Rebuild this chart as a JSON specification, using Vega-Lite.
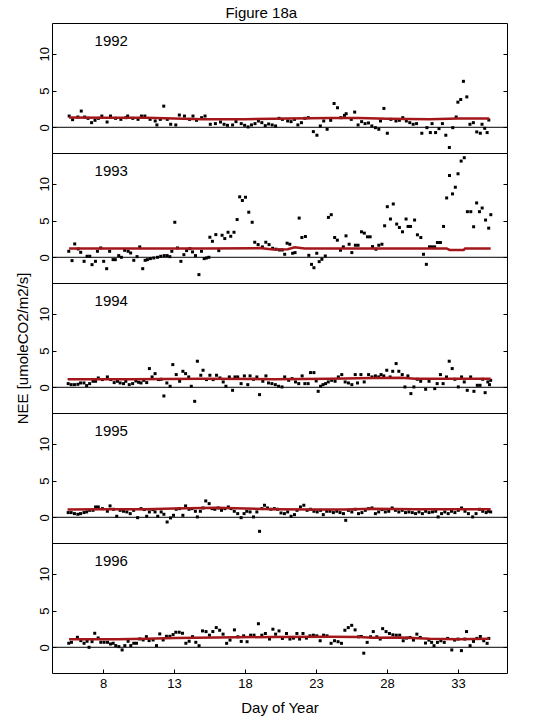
{
  "$schema": "https://vega.github.io/schema/vega-lite/v6.json",
  "padding": {"left": 14, "top": 5, "right": 5, "bottom": 5},
  "title": {"text": "Figure 18a", "anchor": "middle", "fontSize": 15, "font": "Liberation Sans", "fontWeight": "normal", "color": "black", "offset": 2},
  "spacing": 0,
  "bounds": "flush",
  "datasets": {
    "pts": [
      {"yr":1992,"d":5.61,"v":1.53},{"yr":1992,"d":5.85,"v":1.04},{"yr":1992,"d":6.22,"v":1.4},{"yr":1992,"d":6.46,"v":2.21},{"yr":1992,"d":6.7,"v":1.4},{"yr":1992,"d":6.94,"v":1.22},{"yr":1992,"d":7.19,"v":0.63},{"yr":1992,"d":7.43,"v":0.95},{"yr":1992,"d":7.67,"v":1.22},{"yr":1992,"d":7.91,"v":1.53},{"yr":1992,"d":8.28,"v":0.72},{"yr":1992,"d":8.52,"v":1.53},{"yr":1992,"d":8.88,"v":1.22},{"yr":1992,"d":9.25,"v":1.08},{"yr":1992,"d":9.61,"v":1.31},{"yr":1992,"d":9.73,"v":1.53},{"yr":1992,"d":10.09,"v":1.22},{"yr":1992,"d":10.46,"v":1.08},{"yr":1992,"d":10.7,"v":1.53},{"yr":1992,"d":10.94,"v":1.53},{"yr":1992,"d":11.31,"v":1.08},{"yr":1992,"d":11.67,"v":0.86},{"yr":1992,"d":11.79,"v":0.32},{"yr":1992,"d":12.03,"v":1.08},{"yr":1992,"d":12.27,"v":2.88},{"yr":1992,"d":12.52,"v":1.08},{"yr":1992,"d":12.76,"v":0.41},{"yr":1992,"d":13.12,"v":0.32},{"yr":1992,"d":13.37,"v":1.67},{"yr":1992,"d":13.73,"v":1.53},{"yr":1992,"d":14.09,"v":1.08},{"yr":1992,"d":14.33,"v":1.53},{"yr":1992,"d":14.58,"v":0.95},{"yr":1992,"d":14.94,"v":1.31},{"yr":1992,"d":15.18,"v":1.53},{"yr":1992,"d":15.55,"v":0.41},{"yr":1992,"d":15.91,"v":0.5},{"yr":1992,"d":16.27,"v":0.72},{"yr":1992,"d":16.52,"v":0.41},{"yr":1992,"d":16.76,"v":0.27},{"yr":1992,"d":17.12,"v":0.32},{"yr":1992,"d":17.36,"v":0.77},{"yr":1992,"d":17.73,"v":0.5},{"yr":1992,"d":17.97,"v":0.27},{"yr":1992,"d":18.21,"v":0.05},{"yr":1992,"d":18.45,"v":0.32},{"yr":1992,"d":18.7,"v":0.5},{"yr":1992,"d":18.94,"v":0.86},{"yr":1992,"d":19.18,"v":0.63},{"yr":1992,"d":19.42,"v":0.23},{"yr":1992,"d":19.66,"v":0.45},{"yr":1992,"d":19.91,"v":0.32},{"yr":1992,"d":20.15,"v":0.18},{"yr":1992,"d":20.39,"v":1.22},{"yr":1992,"d":20.63,"v":1.08},{"yr":1992,"d":21.0,"v":0.86},{"yr":1992,"d":21.24,"v":0.77},{"yr":1992,"d":21.48,"v":1.08},{"yr":1992,"d":21.72,"v":0.32},{"yr":1992,"d":21.97,"v":0.63},{"yr":1992,"d":22.21,"v":1.22},{"yr":1992,"d":22.45,"v":1.31},{"yr":1992,"d":22.81,"v":-0.59},{"yr":1992,"d":23.06,"v":-1.08},{"yr":1992,"d":23.3,"v":0.18},{"yr":1992,"d":23.54,"v":0.86},{"yr":1992,"d":23.78,"v":-0.27},{"yr":1992,"d":24.03,"v":0.95},{"yr":1992,"d":24.27,"v":3.24},{"yr":1992,"d":24.51,"v":2.66},{"yr":1992,"d":24.75,"v":1.31},{"yr":1992,"d":25.0,"v":1.62},{"yr":1992,"d":25.12,"v":1.85},{"yr":1992,"d":25.48,"v":1.08},{"yr":1992,"d":25.72,"v":2.07},{"yr":1992,"d":25.96,"v":0.32},{"yr":1992,"d":26.21,"v":0.77},{"yr":1992,"d":26.45,"v":0.5},{"yr":1992,"d":26.69,"v":0.59},{"yr":1992,"d":26.93,"v":0.18},{"yr":1992,"d":27.18,"v":-0.05},{"yr":1992,"d":27.42,"v":-0.27},{"yr":1992,"d":27.54,"v":0.86},{"yr":1992,"d":27.78,"v":2.57},{"yr":1992,"d":28.02,"v":-0.81},{"yr":1992,"d":28.27,"v":1.08},{"yr":1992,"d":28.63,"v":0.86},{"yr":1992,"d":28.87,"v":0.95},{"yr":1992,"d":29.11,"v":1.31},{"yr":1992,"d":29.36,"v":0.86},{"yr":1992,"d":29.6,"v":0.63},{"yr":1992,"d":29.84,"v":0.41},{"yr":1992,"d":30.08,"v":0.5},{"yr":1992,"d":30.45,"v":-0.81},{"yr":1992,"d":30.81,"v":-0.05},{"yr":1992,"d":31.05,"v":-0.72},{"yr":1992,"d":31.17,"v":0.5},{"yr":1992,"d":31.42,"v":-0.72},{"yr":1992,"d":31.66,"v":-0.18},{"yr":1992,"d":31.9,"v":0.5},{"yr":1992,"d":32.14,"v":-1.08},{"yr":1992,"d":32.39,"v":-2.75},{"yr":1992,"d":32.63,"v":-0.05},{"yr":1992,"d":32.87,"v":1.4},{"yr":1992,"d":32.99,"v":3.42},{"yr":1992,"d":33.19,"v":3.78},{"yr":1992,"d":33.38,"v":6.26},{"yr":1992,"d":33.62,"v":4.14},{"yr":1992,"d":33.84,"v":0.41},{"yr":1992,"d":34.08,"v":0.63},{"yr":1992,"d":34.32,"v":-0.63},{"yr":1992,"d":34.57,"v":-0.81},{"yr":1992,"d":34.69,"v":0.41},{"yr":1992,"d":34.88,"v":-0.14},{"yr":1992,"d":35.05,"v":-0.72},{"yr":1992,"d":35.17,"v":0.99},
      {"yr":1993,"d":5.58,"v":0.82},{"yr":1993,"d":5.81,"v":-0.45},{"yr":1993,"d":6.0,"v":1.82},{"yr":1993,"d":6.24,"v":1.14},{"yr":1993,"d":6.42,"v":0.68},{"yr":1993,"d":6.66,"v":-0.55},{"yr":1993,"d":6.87,"v":0.14},{"yr":1993,"d":7.06,"v":0.14},{"yr":1993,"d":7.22,"v":-1.0},{"yr":1993,"d":7.46,"v":-0.55},{"yr":1993,"d":7.6,"v":0.82},{"yr":1993,"d":7.83,"v":1.27},{"yr":1993,"d":8.04,"v":-0.55},{"yr":1993,"d":8.25,"v":-1.55},{"yr":1993,"d":8.46,"v":0.82},{"yr":1993,"d":8.7,"v":-0.32},{"yr":1993,"d":8.86,"v":-0.32},{"yr":1993,"d":9.1,"v":0.23},{"yr":1993,"d":9.29,"v":0.0},{"yr":1993,"d":9.52,"v":0.95},{"yr":1993,"d":9.76,"v":0.82},{"yr":1993,"d":9.94,"v":0.59},{"yr":1993,"d":10.16,"v":-0.41},{"yr":1993,"d":10.39,"v":0.09},{"yr":1993,"d":10.58,"v":1.41},{"yr":1993,"d":10.79,"v":-1.55},{"yr":1993,"d":10.96,"v":-0.41},{"yr":1993,"d":11.12,"v":-0.32},{"yr":1993,"d":11.33,"v":-0.18},{"yr":1993,"d":11.57,"v":-0.09},{"yr":1993,"d":11.83,"v":0.0},{"yr":1993,"d":12.06,"v":0.14},{"yr":1993,"d":12.3,"v":0.23},{"yr":1993,"d":12.51,"v":0.23},{"yr":1993,"d":12.7,"v":0.09},{"yr":1993,"d":12.84,"v":0.82},{"yr":1993,"d":13.05,"v":4.77},{"yr":1993,"d":13.24,"v":1.27},{"yr":1993,"d":13.48,"v":-0.55},{"yr":1993,"d":13.69,"v":0.36},{"yr":1993,"d":13.88,"v":0.91},{"yr":1993,"d":14.11,"v":1.18},{"yr":1993,"d":14.3,"v":0.73},{"yr":1993,"d":14.51,"v":0.23},{"yr":1993,"d":14.75,"v":-2.36},{"yr":1993,"d":14.93,"v":0.82},{"yr":1993,"d":15.12,"v":-0.18},{"yr":1993,"d":15.28,"v":-0.09},{"yr":1993,"d":15.45,"v":0.0},{"yr":1993,"d":15.52,"v":2.73},{"yr":1993,"d":15.7,"v":2.18},{"yr":1993,"d":15.94,"v":3.09},{"yr":1993,"d":16.15,"v":0.91},{"yr":1993,"d":16.38,"v":3.0},{"yr":1993,"d":16.57,"v":2.55},{"yr":1993,"d":16.8,"v":3.41},{"yr":1993,"d":16.99,"v":2.86},{"yr":1993,"d":17.22,"v":3.41},{"yr":1993,"d":17.44,"v":5.14},{"yr":1993,"d":17.62,"v":8.23},{"yr":1993,"d":17.81,"v":7.73},{"yr":1993,"d":18.03,"v":8.18},{"yr":1993,"d":18.26,"v":6.14},{"yr":1993,"d":18.5,"v":4.77},{"yr":1993,"d":18.68,"v":2.05},{"yr":1993,"d":18.92,"v":1.73},{"yr":1993,"d":19.22,"v":1.41},{"yr":1993,"d":19.46,"v":2.05},{"yr":1993,"d":19.69,"v":1.73},{"yr":1993,"d":19.94,"v":1.23},{"yr":1993,"d":20.18,"v":1.1},{"yr":1993,"d":20.42,"v":1.0},{"yr":1993,"d":20.62,"v":1.0},{"yr":1993,"d":20.79,"v":0.41},{"yr":1993,"d":20.96,"v":1.92},{"yr":1993,"d":21.15,"v":1.78},{"yr":1993,"d":21.35,"v":0.55},{"yr":1993,"d":21.52,"v":0.64},{"yr":1993,"d":21.81,"v":5.34},{"yr":1993,"d":22.0,"v":2.69},{"yr":1993,"d":22.25,"v":2.83},{"yr":1993,"d":22.49,"v":0.27},{"yr":1993,"d":22.68,"v":-0.96},{"yr":1993,"d":22.85,"v":-1.42},{"yr":1993,"d":23.05,"v":0.55},{"yr":1993,"d":23.22,"v":-0.59},{"yr":1993,"d":23.41,"v":-0.27},{"yr":1993,"d":23.65,"v":0.18},{"yr":1993,"d":23.87,"v":5.43},{"yr":1993,"d":24.07,"v":5.8},{"yr":1993,"d":24.31,"v":2.69},{"yr":1993,"d":24.5,"v":2.33},{"yr":1993,"d":24.72,"v":0.96},{"yr":1993,"d":24.92,"v":1.42},{"yr":1993,"d":25.11,"v":2.92},{"yr":1993,"d":25.33,"v":1.78},{"yr":1993,"d":25.52,"v":0.64},{"yr":1993,"d":25.77,"v":1.64},{"yr":1993,"d":25.96,"v":1.64},{"yr":1993,"d":26.2,"v":3.47},{"yr":1993,"d":26.4,"v":3.29},{"yr":1993,"d":26.62,"v":2.79},{"yr":1993,"d":26.81,"v":2.79},{"yr":1993,"d":26.98,"v":1.46},{"yr":1993,"d":27.22,"v":1.1},{"yr":1993,"d":27.42,"v":1.64},{"yr":1993,"d":27.64,"v":1.78},{"yr":1993,"d":27.83,"v":4.29},{"yr":1993,"d":28.02,"v":6.89},{"yr":1993,"d":28.24,"v":5.21},{"yr":1993,"d":28.44,"v":7.26},{"yr":1993,"d":28.68,"v":4.52},{"yr":1993,"d":28.87,"v":4.06},{"yr":1993,"d":29.09,"v":3.47},{"yr":1993,"d":29.34,"v":5.21},{"yr":1993,"d":29.48,"v":4.2},{"yr":1993,"d":29.65,"v":4.2},{"yr":1993,"d":29.94,"v":5.07},{"yr":1993,"d":30.14,"v":3.06},{"yr":1993,"d":30.38,"v":2.69},{"yr":1993,"d":30.57,"v":0.41},{"yr":1993,"d":30.77,"v":-0.96},{"yr":1993,"d":30.99,"v":1.42},{"yr":1993,"d":31.16,"v":1.42},{"yr":1993,"d":31.35,"v":1.42},{"yr":1993,"d":31.55,"v":2.01},{"yr":1993,"d":31.76,"v":2.01},{"yr":1993,"d":31.98,"v":4.2},{"yr":1993,"d":32.2,"v":8.08},{"yr":1993,"d":32.4,"v":11.14},{"yr":1993,"d":32.61,"v":8.63},{"yr":1993,"d":32.81,"v":9.54},{"yr":1993,"d":33.0,"v":11.37},{"yr":1993,"d":33.22,"v":13.1},{"yr":1993,"d":33.44,"v":13.56},{"yr":1993,"d":33.66,"v":6.21},{"yr":1993,"d":33.9,"v":6.21},{"yr":1993,"d":34.1,"v":4.16},{"yr":1993,"d":34.31,"v":7.4},{"yr":1993,"d":34.51,"v":6.21},{"yr":1993,"d":34.7,"v":6.71},{"yr":1993,"d":34.94,"v":5.07},{"yr":1993,"d":35.16,"v":3.97},{"yr":1993,"d":35.31,"v":5.8},
      {"yr":1994,"d":5.54,"v":0.5},{"yr":1994,"d":5.75,"v":0.36},{"yr":1994,"d":5.98,"v":0.36},{"yr":1994,"d":6.22,"v":0.41},{"yr":1994,"d":6.41,"v":0.59},{"yr":1994,"d":6.65,"v":0.59},{"yr":1994,"d":6.84,"v":0.23},{"yr":1994,"d":7.05,"v":0.5},{"yr":1994,"d":7.29,"v":0.82},{"yr":1994,"d":7.47,"v":0.82},{"yr":1994,"d":7.66,"v":1.27},{"yr":1994,"d":7.95,"v":1.05},{"yr":1994,"d":8.3,"v":1.41},{"yr":1994,"d":8.54,"v":1.05},{"yr":1994,"d":8.78,"v":0.64},{"yr":1994,"d":9.01,"v":0.82},{"yr":1994,"d":9.2,"v":0.59},{"yr":1994,"d":9.44,"v":0.5},{"yr":1994,"d":9.6,"v":0.82},{"yr":1994,"d":9.84,"v":0.36},{"yr":1994,"d":10.08,"v":0.5},{"yr":1994,"d":10.31,"v":0.86},{"yr":1994,"d":10.5,"v":0.68},{"yr":1994,"d":10.67,"v":0.59},{"yr":1994,"d":10.86,"v":0.95},{"yr":1994,"d":11.07,"v":0.64},{"yr":1994,"d":11.26,"v":2.55},{"yr":1994,"d":11.45,"v":1.41},{"yr":1994,"d":11.66,"v":1.86},{"yr":1994,"d":11.9,"v":1.05},{"yr":1994,"d":12.09,"v":1.09},{"yr":1994,"d":12.28,"v":-1.18},{"yr":1994,"d":12.49,"v":0.59},{"yr":1994,"d":12.72,"v":0.14},{"yr":1994,"d":12.91,"v":3.09},{"yr":1994,"d":13.15,"v":1.73},{"yr":1994,"d":13.39,"v":0.82},{"yr":1994,"d":13.62,"v":2.18},{"yr":1994,"d":13.81,"v":1.86},{"yr":1994,"d":14.03,"v":1.41},{"yr":1994,"d":14.21,"v":0.14},{"yr":1994,"d":14.45,"v":-1.91},{"yr":1994,"d":14.64,"v":3.55},{"yr":1994,"d":14.88,"v":1.64},{"yr":1994,"d":15.04,"v":2.32},{"yr":1994,"d":15.28,"v":1.05},{"yr":1994,"d":15.52,"v":1.64},{"yr":1994,"d":15.75,"v":1.05},{"yr":1994,"d":15.99,"v":1.64},{"yr":1994,"d":16.23,"v":1.27},{"yr":1994,"d":16.46,"v":0.73},{"yr":1994,"d":16.65,"v":0.14},{"yr":1994,"d":16.89,"v":1.41},{"yr":1994,"d":17.12,"v":-0.41},{"yr":1994,"d":17.29,"v":1.41},{"yr":1994,"d":17.48,"v":1.41},{"yr":1994,"d":17.72,"v":0.5},{"yr":1994,"d":17.95,"v":1.55},{"yr":1994,"d":18.19,"v":0.36},{"yr":1994,"d":18.35,"v":1.55},{"yr":1994,"d":18.59,"v":1.09},{"yr":1994,"d":18.83,"v":1.41},{"yr":1994,"d":19.02,"v":-1.0},{"yr":1994,"d":19.25,"v":0.82},{"yr":1994,"d":19.47,"v":1.55},{"yr":1994,"d":19.65,"v":0.59},{"yr":1994,"d":19.89,"v":0.5},{"yr":1994,"d":20.13,"v":0.36},{"yr":1994,"d":20.36,"v":0.14},{"yr":1994,"d":20.6,"v":0.05},{"yr":1994,"d":20.79,"v":1.41},{"yr":1994,"d":21.07,"v":0.95},{"yr":1994,"d":21.31,"v":1.18},{"yr":1994,"d":21.55,"v":0.73},{"yr":1994,"d":21.78,"v":0.5},{"yr":1994,"d":22.02,"v":1.55},{"yr":1994,"d":22.21,"v":0.5},{"yr":1994,"d":22.44,"v":0.5},{"yr":1994,"d":22.61,"v":2.0},{"yr":1994,"d":22.85,"v":2.0},{"yr":1994,"d":23.01,"v":0.86},{"yr":1994,"d":23.15,"v":-0.55},{"yr":1994,"d":23.32,"v":0.14},{"yr":1994,"d":23.49,"v":0.36},{"yr":1994,"d":23.67,"v":0.5},{"yr":1994,"d":23.86,"v":0.73},{"yr":1994,"d":24.1,"v":0.95},{"yr":1994,"d":24.34,"v":0.82},{"yr":1994,"d":24.57,"v":1.41},{"yr":1994,"d":24.81,"v":1.73},{"yr":1994,"d":25.05,"v":0.73},{"yr":1994,"d":25.28,"v":0.59},{"yr":1994,"d":25.52,"v":0.36},{"yr":1994,"d":25.76,"v":1.73},{"yr":1994,"d":25.92,"v":0.59},{"yr":1994,"d":26.16,"v":1.73},{"yr":1994,"d":26.39,"v":0.73},{"yr":1994,"d":26.7,"v":1.73},{"yr":1994,"d":26.94,"v":1.41},{"yr":1994,"d":27.18,"v":1.55},{"yr":1994,"d":27.41,"v":1.41},{"yr":1994,"d":27.58,"v":1.73},{"yr":1994,"d":27.77,"v":1.55},{"yr":1994,"d":27.98,"v":2.32},{"yr":1994,"d":28.22,"v":1.41},{"yr":1994,"d":28.4,"v":2.18},{"yr":1994,"d":28.64,"v":3.23},{"yr":1994,"d":28.83,"v":2.18},{"yr":1994,"d":29.07,"v":1.73},{"yr":1994,"d":29.26,"v":0.05},{"yr":1994,"d":29.47,"v":1.55},{"yr":1994,"d":29.68,"v":-0.86},{"yr":1994,"d":29.89,"v":0.05},{"yr":1994,"d":30.13,"v":1.09},{"yr":1994,"d":30.37,"v":0.82},{"yr":1994,"d":30.72,"v":-0.27},{"yr":1994,"d":30.96,"v":0.82},{"yr":1994,"d":31.36,"v":-0.18},{"yr":1994,"d":31.53,"v":0.5},{"yr":1994,"d":31.76,"v":1.73},{"yr":1994,"d":31.95,"v":0.5},{"yr":1994,"d":32.19,"v":1.41},{"yr":1994,"d":32.38,"v":3.55},{"yr":1994,"d":32.59,"v":2.55},{"yr":1994,"d":32.78,"v":1.09},{"yr":1994,"d":33.02,"v":0.05},{"yr":1994,"d":33.25,"v":1.41},{"yr":1994,"d":33.44,"v":0.73},{"yr":1994,"d":33.65,"v":-0.41},{"yr":1994,"d":33.89,"v":1.41},{"yr":1994,"d":34.12,"v":-0.55},{"yr":1994,"d":34.36,"v":0.27},{"yr":1994,"d":34.55,"v":0.27},{"yr":1994,"d":34.74,"v":1.09},{"yr":1994,"d":34.91,"v":-0.73},{"yr":1994,"d":35.1,"v":0.73},{"yr":1994,"d":35.22,"v":0.36},{"yr":1994,"d":35.3,"v":0.95},
      {"yr":1995,"d":5.54,"v":0.64},{"yr":1995,"d":5.75,"v":0.64},{"yr":1995,"d":5.98,"v":0.5},{"yr":1995,"d":6.22,"v":0.41},{"yr":1995,"d":6.41,"v":0.5},{"yr":1995,"d":6.65,"v":0.64},{"yr":1995,"d":6.84,"v":0.73},{"yr":1995,"d":7.05,"v":0.95},{"yr":1995,"d":7.29,"v":0.95},{"yr":1995,"d":7.47,"v":1.41},{"yr":1995,"d":7.66,"v":1.41},{"yr":1995,"d":7.95,"v":1.18},{"yr":1995,"d":8.3,"v":0.82},{"yr":1995,"d":8.49,"v":1.55},{"yr":1995,"d":8.73,"v":1.09},{"yr":1995,"d":8.96,"v":0.14},{"yr":1995,"d":9.2,"v":0.95},{"yr":1995,"d":9.44,"v":0.82},{"yr":1995,"d":9.67,"v":0.73},{"yr":1995,"d":9.91,"v":0.5},{"yr":1995,"d":10.15,"v":0.95},{"yr":1995,"d":10.43,"v":-0.05},{"yr":1995,"d":10.67,"v":1.18},{"yr":1995,"d":10.9,"v":1.05},{"yr":1995,"d":11.07,"v":0.14},{"yr":1995,"d":11.26,"v":0.73},{"yr":1995,"d":11.5,"v":1.05},{"yr":1995,"d":11.66,"v":0.73},{"yr":1995,"d":11.85,"v":0.14},{"yr":1995,"d":12.09,"v":0.73},{"yr":1995,"d":12.28,"v":0.41},{"yr":1995,"d":12.51,"v":-0.64},{"yr":1995,"d":12.75,"v":-0.09},{"yr":1995,"d":12.96,"v":0.27},{"yr":1995,"d":13.15,"v":1.09},{"yr":1995,"d":13.39,"v":1.18},{"yr":1995,"d":13.62,"v":0.27},{"yr":1995,"d":13.81,"v":1.55},{"yr":1995,"d":14.05,"v":1.09},{"yr":1995,"d":14.26,"v":1.18},{"yr":1995,"d":14.5,"v":0.82},{"yr":1995,"d":14.64,"v":0.05},{"yr":1995,"d":14.85,"v":0.82},{"yr":1995,"d":15.04,"v":1.27},{"yr":1995,"d":15.23,"v":2.23},{"yr":1995,"d":15.47,"v":1.86},{"yr":1995,"d":15.68,"v":1.18},{"yr":1995,"d":15.87,"v":1.09},{"yr":1995,"d":16.11,"v":1.27},{"yr":1995,"d":16.34,"v":0.95},{"yr":1995,"d":16.58,"v":1.18},{"yr":1995,"d":16.82,"v":1.41},{"yr":1995,"d":17.01,"v":1.18},{"yr":1995,"d":17.24,"v":0.82},{"yr":1995,"d":17.48,"v":0.5},{"yr":1995,"d":17.72,"v":-0.05},{"yr":1995,"d":17.93,"v":0.5},{"yr":1995,"d":18.12,"v":0.82},{"yr":1995,"d":18.35,"v":0.73},{"yr":1995,"d":18.59,"v":0.05},{"yr":1995,"d":18.83,"v":0.73},{"yr":1995,"d":19.02,"v":-1.91},{"yr":1995,"d":19.18,"v":1.18},{"yr":1995,"d":19.37,"v":1.64},{"yr":1995,"d":19.58,"v":1.27},{"yr":1995,"d":19.82,"v":1.09},{"yr":1995,"d":20.06,"v":1.18},{"yr":1995,"d":20.29,"v":1.09},{"yr":1995,"d":20.53,"v":0.59},{"yr":1995,"d":20.77,"v":0.5},{"yr":1995,"d":21.0,"v":0.73},{"yr":1995,"d":21.24,"v":0.14},{"yr":1995,"d":21.48,"v":0.36},{"yr":1995,"d":21.66,"v":0.95},{"yr":1995,"d":21.9,"v":1.41},{"yr":1995,"d":22.14,"v":1.64},{"yr":1995,"d":22.37,"v":0.95},{"yr":1995,"d":22.61,"v":1.09},{"yr":1995,"d":22.85,"v":0.82},{"yr":1995,"d":23.08,"v":0.73},{"yr":1995,"d":23.32,"v":0.95},{"yr":1995,"d":23.51,"v":0.36},{"yr":1995,"d":23.75,"v":0.82},{"yr":1995,"d":23.98,"v":0.82},{"yr":1995,"d":24.22,"v":0.64},{"yr":1995,"d":24.46,"v":0.82},{"yr":1995,"d":24.69,"v":0.64},{"yr":1995,"d":24.93,"v":0.5},{"yr":1995,"d":25.09,"v":-0.41},{"yr":1995,"d":25.28,"v":0.95},{"yr":1995,"d":25.52,"v":0.73},{"yr":1995,"d":25.76,"v":1.09},{"yr":1995,"d":25.99,"v":0.5},{"yr":1995,"d":26.23,"v":0.64},{"yr":1995,"d":26.47,"v":0.95},{"yr":1995,"d":26.7,"v":1.18},{"yr":1995,"d":26.94,"v":1.27},{"yr":1995,"d":27.18,"v":0.5},{"yr":1995,"d":27.41,"v":0.73},{"yr":1995,"d":27.65,"v":1.05},{"yr":1995,"d":27.88,"v":0.73},{"yr":1995,"d":28.12,"v":0.82},{"yr":1995,"d":28.36,"v":1.27},{"yr":1995,"d":28.59,"v":0.95},{"yr":1995,"d":28.83,"v":0.73},{"yr":1995,"d":29.07,"v":0.95},{"yr":1995,"d":29.3,"v":0.64},{"yr":1995,"d":29.54,"v":0.73},{"yr":1995,"d":29.78,"v":0.64},{"yr":1995,"d":30.01,"v":0.5},{"yr":1995,"d":30.25,"v":0.73},{"yr":1995,"d":30.49,"v":0.5},{"yr":1995,"d":30.72,"v":0.82},{"yr":1995,"d":30.96,"v":0.64},{"yr":1995,"d":31.2,"v":0.73},{"yr":1995,"d":31.43,"v":0.82},{"yr":1995,"d":31.6,"v":0.05},{"yr":1995,"d":31.84,"v":0.5},{"yr":1995,"d":32.07,"v":0.73},{"yr":1995,"d":32.31,"v":0.5},{"yr":1995,"d":32.54,"v":0.82},{"yr":1995,"d":32.78,"v":0.64},{"yr":1995,"d":33.02,"v":0.95},{"yr":1995,"d":33.25,"v":1.27},{"yr":1995,"d":33.49,"v":0.82},{"yr":1995,"d":33.73,"v":0.5},{"yr":1995,"d":34.03,"v":0.05},{"yr":1995,"d":34.27,"v":0.5},{"yr":1995,"d":34.51,"v":1.09},{"yr":1995,"d":34.74,"v":0.82},{"yr":1995,"d":34.98,"v":0.64},{"yr":1995,"d":35.15,"v":0.82},{"yr":1995,"d":35.3,"v":0.73},
      {"yr":1996,"d":5.58,"v":0.55},{"yr":1996,"d":5.77,"v":0.68},{"yr":1996,"d":6.19,"v":1.36},{"yr":1996,"d":6.43,"v":0.91},{"yr":1996,"d":6.66,"v":0.55},{"yr":1996,"d":6.87,"v":0.82},{"yr":1996,"d":7.01,"v":0.0},{"yr":1996,"d":7.22,"v":0.77},{"yr":1996,"d":7.41,"v":1.91},{"yr":1996,"d":7.65,"v":1.27},{"yr":1996,"d":7.84,"v":0.68},{"yr":1996,"d":8.07,"v":0.68},{"yr":1996,"d":8.31,"v":0.68},{"yr":1996,"d":8.52,"v":0.45},{"yr":1996,"d":8.71,"v":0.55},{"yr":1996,"d":8.89,"v":0.23},{"yr":1996,"d":9.11,"v":0.09},{"yr":1996,"d":9.34,"v":-0.36},{"yr":1996,"d":9.53,"v":0.23},{"yr":1996,"d":9.76,"v":0.82},{"yr":1996,"d":9.95,"v":0.23},{"yr":1996,"d":10.16,"v":0.55},{"yr":1996,"d":10.35,"v":0.55},{"yr":1996,"d":10.58,"v":1.14},{"yr":1996,"d":10.82,"v":1.0},{"yr":1996,"d":11.05,"v":1.45},{"yr":1996,"d":11.24,"v":0.91},{"yr":1996,"d":11.52,"v":1.0},{"yr":1996,"d":11.76,"v":0.23},{"yr":1996,"d":11.99,"v":1.82},{"yr":1996,"d":12.23,"v":1.0},{"yr":1996,"d":12.46,"v":1.5},{"yr":1996,"d":12.7,"v":1.5},{"yr":1996,"d":12.93,"v":1.73},{"yr":1996,"d":13.12,"v":2.05},{"yr":1996,"d":13.36,"v":2.05},{"yr":1996,"d":13.59,"v":1.91},{"yr":1996,"d":13.83,"v":0.55},{"yr":1996,"d":14.06,"v":0.82},{"yr":1996,"d":14.3,"v":1.45},{"yr":1996,"d":14.53,"v":0.68},{"yr":1996,"d":14.76,"v":0.22},{"yr":1996,"d":15.0,"v":2.23},{"yr":1996,"d":15.25,"v":2.14},{"yr":1996,"d":15.49,"v":1.65},{"yr":1996,"d":15.73,"v":2.14},{"yr":1996,"d":15.97,"v":2.68},{"yr":1996,"d":16.21,"v":2.32},{"yr":1996,"d":16.45,"v":1.79},{"yr":1996,"d":16.7,"v":0.54},{"yr":1996,"d":16.94,"v":0.98},{"yr":1996,"d":17.25,"v":2.37},{"yr":1996,"d":17.49,"v":1.43},{"yr":1996,"d":17.73,"v":0.8},{"yr":1996,"d":17.9,"v":1.56},{"yr":1996,"d":18.14,"v":0.76},{"yr":1996,"d":18.39,"v":1.65},{"yr":1996,"d":18.63,"v":1.65},{"yr":1996,"d":18.94,"v":3.21},{"yr":1996,"d":19.18,"v":1.65},{"yr":1996,"d":19.43,"v":1.88},{"yr":1996,"d":19.72,"v":1.12},{"yr":1996,"d":19.96,"v":2.46},{"yr":1996,"d":20.15,"v":1.79},{"yr":1996,"d":20.39,"v":2.23},{"yr":1996,"d":20.63,"v":1.21},{"yr":1996,"d":20.92,"v":1.88},{"yr":1996,"d":21.16,"v":1.12},{"yr":1996,"d":21.41,"v":1.25},{"yr":1996,"d":21.65,"v":1.88},{"yr":1996,"d":21.84,"v":1.12},{"yr":1996,"d":22.08,"v":1.88},{"yr":1996,"d":22.32,"v":1.25},{"yr":1996,"d":22.57,"v":1.56},{"yr":1996,"d":22.81,"v":1.65},{"yr":1996,"d":23.05,"v":1.56},{"yr":1996,"d":23.29,"v":0.89},{"yr":1996,"d":23.53,"v":1.65},{"yr":1996,"d":23.77,"v":1.56},{"yr":1996,"d":24.06,"v":0.54},{"yr":1996,"d":24.3,"v":0.89},{"yr":1996,"d":24.55,"v":0.76},{"yr":1996,"d":24.79,"v":0.54},{"yr":1996,"d":25.03,"v":2.32},{"yr":1996,"d":25.27,"v":2.68},{"yr":1996,"d":25.51,"v":2.99},{"yr":1996,"d":25.75,"v":2.37},{"yr":1996,"d":25.99,"v":1.43},{"yr":1996,"d":26.19,"v":1.47},{"yr":1996,"d":26.36,"v":-0.8},{"yr":1996,"d":26.6,"v":0.67},{"yr":1996,"d":26.84,"v":1.43},{"yr":1996,"d":27.03,"v":2.14},{"yr":1996,"d":27.28,"v":1.43},{"yr":1996,"d":27.52,"v":1.12},{"yr":1996,"d":27.69,"v":2.54},{"yr":1996,"d":27.93,"v":2.14},{"yr":1996,"d":28.17,"v":1.88},{"yr":1996,"d":28.41,"v":1.7},{"yr":1996,"d":28.65,"v":1.65},{"yr":1996,"d":28.89,"v":1.65},{"yr":1996,"d":29.14,"v":0.89},{"yr":1996,"d":29.38,"v":1.25},{"yr":1996,"d":29.62,"v":1.34},{"yr":1996,"d":29.86,"v":0.98},{"yr":1996,"d":30.1,"v":1.79},{"yr":1996,"d":30.34,"v":1.34},{"yr":1996,"d":30.71,"v":0.58},{"yr":1996,"d":30.95,"v":0.98},{"yr":1996,"d":31.14,"v":0.67},{"yr":1996,"d":31.31,"v":0.22},{"yr":1996,"d":31.55,"v":0.67},{"yr":1996,"d":31.79,"v":0.89},{"yr":1996,"d":32.03,"v":0.67},{"yr":1996,"d":32.27,"v":1.21},{"yr":1996,"d":32.56,"v":-0.36},{"yr":1996,"d":32.76,"v":0.98},{"yr":1996,"d":33.0,"v":1.12},{"yr":1996,"d":33.24,"v":-0.45},{"yr":1996,"d":33.48,"v":1.12},{"yr":1996,"d":33.6,"v":2.14},{"yr":1996,"d":33.85,"v":0.22},{"yr":1996,"d":34.09,"v":0.8},{"yr":1996,"d":34.33,"v":1.21},{"yr":1996,"d":34.57,"v":1.47},{"yr":1996,"d":34.81,"v":0.89},{"yr":1996,"d":35.05,"v":0.54},{"yr":1996,"d":35.17,"v":1.21}
    ],
    "fit": [
      {"yr":1992,"d":5.6,"f":1.35},{"yr":1992,"d":8,"f":1.3},{"yr":1992,"d":11,"f":1.3},{"yr":1992,"d":13,"f":1.2},{"yr":1992,"d":15,"f":1.1},{"yr":1992,"d":18,"f":1.1},{"yr":1992,"d":20,"f":1.15},{"yr":1992,"d":21,"f":1.2},{"yr":1992,"d":24,"f":1.25},{"yr":1992,"d":26,"f":1.25},{"yr":1992,"d":28,"f":1.15},{"yr":1992,"d":31,"f":1.1},{"yr":1992,"d":33,"f":1.2},{"yr":1992,"d":35.2,"f":1.2},
      {"yr":1993,"d":5.6,"f":1.2},{"yr":1993,"d":15,"f":1.2},{"yr":1993,"d":19,"f":1.25},{"yr":1993,"d":20,"f":1.05},{"yr":1993,"d":21,"f":1.1},{"yr":1993,"d":21.5,"f":1.35},{"yr":1993,"d":22.2,"f":1.2},{"yr":1993,"d":32.2,"f":1.2},{"yr":1993,"d":32.4,"f":1.0},{"yr":1993,"d":33.4,"f":1.0},{"yr":1993,"d":33.5,"f":1.2},{"yr":1993,"d":35.3,"f":1.2},
      {"yr":1994,"d":5.5,"f":1.1},{"yr":1994,"d":10,"f":1.1},{"yr":1994,"d":15,"f":1.15},{"yr":1994,"d":20,"f":1.1},{"yr":1994,"d":24,"f":1.15},{"yr":1994,"d":27,"f":1.25},{"yr":1994,"d":29,"f":1.3},{"yr":1994,"d":30,"f":1.15},{"yr":1994,"d":35.3,"f":1.15},
      {"yr":1995,"d":5.5,"f":1.05},{"yr":1995,"d":8,"f":1.1},{"yr":1995,"d":11,"f":1.1},{"yr":1995,"d":13,"f":1.2},{"yr":1995,"d":16,"f":1.3},{"yr":1995,"d":18,"f":1.2},{"yr":1995,"d":20,"f":1.1},{"yr":1995,"d":23,"f":1.05},{"yr":1995,"d":25,"f":1.05},{"yr":1995,"d":27,"f":1.15},{"yr":1995,"d":30,"f":1.1},{"yr":1995,"d":35.3,"f":1.1},
      {"yr":1996,"d":5.6,"f":1.1},{"yr":1996,"d":9,"f":1.1},{"yr":1996,"d":11,"f":1.15},{"yr":1996,"d":13,"f":1.25},{"yr":1996,"d":16,"f":1.35},{"yr":1996,"d":20,"f":1.4},{"yr":1996,"d":24,"f":1.45},{"yr":1996,"d":26,"f":1.4},{"yr":1996,"d":27,"f":1.3},{"yr":1996,"d":29,"f":1.35},{"yr":1996,"d":31,"f":1.15},{"yr":1996,"d":33,"f":1.1},{"yr":1996,"d":35.2,"f":1.15}
    ]
  },
  "vconcat": [
    {
      "width": 455, "height": 130,
      "layer": [
        {"data": {"values": [{}]}, "mark": {"type": "rule", "color": "black"},
         "encoding": {"y": {"datum": 0, "type": "quantitative", "scale": {"domain": [-3.5, 14.2], "nice": false}, "axis": {"values": [0, 5, 10], "labelAngle": -90, "title": null}}}},
        {"data": {"name": "pts"}, "transform": [{"filter": "datum.yr == 1992"}], "mark": {"type": "square", "size": 9, "color": "black", "opacity": 1},
         "encoding": {"x": {"field": "d", "type": "quantitative", "scale": {"domain": [4.4, 36.45], "nice": false, "zero": false}, "axis": null},
                      "y": {"field": "v", "type": "quantitative", "axis": {"orient": "right", "values": [0, 5, 10], "labels": false, "title": null}}}},
        {"data": {"name": "fit"}, "transform": [{"filter": "datum.yr == 1992"}], "mark": {"type": "line", "color": "#a3161a", "strokeWidth": 2.5},
         "encoding": {"x": {"field": "d", "type": "quantitative", "axis": null}, "y": {"field": "f", "type": "quantitative", "axis": null}}},
        {"data": {"values": [{"t": "1992"}]}, "mark": {"type": "text", "align": "left", "baseline": "alphabetic", "fontSize": 15},
         "encoding": {"x": {"datum": 7.4, "type": "quantitative", "axis": null}, "y": {"datum": 11.1, "type": "quantitative", "axis": null}, "text": {"field": "t"}}}
      ],
      "resolve": {"axis": {"y": "independent"}}
    },
    {
      "width": 455, "height": 130,
      "layer": [
        {"data": {"values": [{}]}, "mark": {"type": "rule", "color": "black"},
         "encoding": {"y": {"datum": 0, "type": "quantitative", "scale": {"domain": [-3.5, 14.2], "nice": false}, "axis": {"values": [0, 5, 10], "labelAngle": -90, "title": null}}}},
        {"data": {"name": "pts"}, "transform": [{"filter": "datum.yr == 1993"}], "mark": {"type": "square", "size": 9, "color": "black", "opacity": 1},
         "encoding": {"x": {"field": "d", "type": "quantitative", "scale": {"domain": [4.4, 36.45], "nice": false, "zero": false}, "axis": null},
                      "y": {"field": "v", "type": "quantitative", "axis": {"orient": "right", "values": [0, 5, 10], "labels": false, "title": null}}}},
        {"data": {"name": "fit"}, "transform": [{"filter": "datum.yr == 1993"}], "mark": {"type": "line", "color": "#a3161a", "strokeWidth": 2.5},
         "encoding": {"x": {"field": "d", "type": "quantitative", "axis": null}, "y": {"field": "f", "type": "quantitative", "axis": null}}},
        {"data": {"values": [{"t": "1993"}]}, "mark": {"type": "text", "align": "left", "baseline": "alphabetic", "fontSize": 15},
         "encoding": {"x": {"datum": 7.4, "type": "quantitative", "axis": null}, "y": {"datum": 11.1, "type": "quantitative", "axis": null}, "text": {"field": "t"}}}
      ],
      "resolve": {"axis": {"y": "independent"}}
    },
    {
      "width": 455, "height": 130,
      "layer": [
        {"data": {"values": [{}]}, "mark": {"type": "rule", "color": "black"},
         "encoding": {"y": {"datum": 0, "type": "quantitative", "scale": {"domain": [-3.5, 14.2], "nice": false}, "axis": {"values": [0, 5, 10], "labelAngle": -90, "title": "NEE [umoleCO2/m2/s]"}}}},
        {"data": {"name": "pts"}, "transform": [{"filter": "datum.yr == 1994"}], "mark": {"type": "square", "size": 9, "color": "black", "opacity": 1},
         "encoding": {"x": {"field": "d", "type": "quantitative", "scale": {"domain": [4.4, 36.45], "nice": false, "zero": false}, "axis": null},
                      "y": {"field": "v", "type": "quantitative", "axis": {"orient": "right", "values": [0, 5, 10], "labels": false, "title": null}}}},
        {"data": {"name": "fit"}, "transform": [{"filter": "datum.yr == 1994"}], "mark": {"type": "line", "color": "#a3161a", "strokeWidth": 2.5},
         "encoding": {"x": {"field": "d", "type": "quantitative", "axis": null}, "y": {"field": "f", "type": "quantitative", "axis": null}}},
        {"data": {"values": [{"t": "1994"}]}, "mark": {"type": "text", "align": "left", "baseline": "alphabetic", "fontSize": 15},
         "encoding": {"x": {"datum": 7.4, "type": "quantitative", "axis": null}, "y": {"datum": 11.1, "type": "quantitative", "axis": null}, "text": {"field": "t"}}}
      ],
      "resolve": {"axis": {"y": "independent"}}
    },
    {
      "width": 455, "height": 130,
      "layer": [
        {"data": {"values": [{}]}, "mark": {"type": "rule", "color": "black"},
         "encoding": {"y": {"datum": 0, "type": "quantitative", "scale": {"domain": [-3.5, 14.2], "nice": false}, "axis": {"values": [0, 5, 10], "labelAngle": -90, "title": null}}}},
        {"data": {"name": "pts"}, "transform": [{"filter": "datum.yr == 1995"}], "mark": {"type": "square", "size": 9, "color": "black", "opacity": 1},
         "encoding": {"x": {"field": "d", "type": "quantitative", "scale": {"domain": [4.4, 36.45], "nice": false, "zero": false}, "axis": null},
                      "y": {"field": "v", "type": "quantitative", "axis": {"orient": "right", "values": [0, 5, 10], "labels": false, "title": null}}}},
        {"data": {"name": "fit"}, "transform": [{"filter": "datum.yr == 1995"}], "mark": {"type": "line", "color": "#a3161a", "strokeWidth": 2.5},
         "encoding": {"x": {"field": "d", "type": "quantitative", "axis": null}, "y": {"field": "f", "type": "quantitative", "axis": null}}},
        {"data": {"values": [{"t": "1995"}]}, "mark": {"type": "text", "align": "left", "baseline": "alphabetic", "fontSize": 15},
         "encoding": {"x": {"datum": 7.4, "type": "quantitative", "axis": null}, "y": {"datum": 11.1, "type": "quantitative", "axis": null}, "text": {"field": "t"}}}
      ],
      "resolve": {"axis": {"y": "independent"}}
    },
    {
      "width": 455, "height": 130,
      "layer": [
        {"data": {"values": [{}]}, "mark": {"type": "rule", "color": "black"},
         "encoding": {"y": {"datum": 0, "type": "quantitative", "scale": {"domain": [-3.5, 14.2], "nice": false}, "axis": {"values": [0, 5, 10], "labelAngle": -90, "title": null}}}},
        {"data": {"name": "pts"}, "transform": [{"filter": "datum.yr == 1996"}], "mark": {"type": "square", "size": 9, "color": "black", "opacity": 1},
         "encoding": {"x": {"field": "d", "type": "quantitative", "scale": {"domain": [4.4, 36.45], "nice": false, "zero": false}, "axis": {"orient": "bottom", "values": [8, 13, 18, 23, 28, 33], "labelAngle": 0, "labelPadding": 8, "titlePadding": 10, "title": "Day of Year"}},
                      "y": {"field": "v", "type": "quantitative", "axis": {"orient": "right", "values": [0, 5, 10], "labels": false, "title": null}}}},
        {"data": {"name": "fit"}, "transform": [{"filter": "datum.yr == 1996"}], "mark": {"type": "line", "color": "#a3161a", "strokeWidth": 2.5},
         "encoding": {"x": {"field": "d", "type": "quantitative", "axis": {"orient": "bottom", "values": [8, 13, 18, 23, 28, 33], "labelAngle": 0, "labelPadding": 8, "titlePadding": 10, "title": "Day of Year"}}, "y": {"field": "f", "type": "quantitative", "axis": null}}},
        {"data": {"values": [{"t": "1996"}]}, "mark": {"type": "text", "align": "left", "baseline": "alphabetic", "fontSize": 15},
         "encoding": {"x": {"datum": 7.4, "type": "quantitative", "axis": {"orient": "bottom", "values": [8, 13, 18, 23, 28, 33], "labelAngle": 0, "labelPadding": 8, "titlePadding": 10, "title": "Day of Year"}}, "y": {"datum": 11.1, "type": "quantitative", "axis": null}, "text": {"field": "t"}}}
      ],
      "resolve": {"axis": {"y": "independent"}}
    }
  ],
  "config": {
    "view": {"stroke": "black", "strokeWidth": 1},
    "font": "Liberation Sans",
    "text": {"font": "Liberation Sans", "color": "black"},
    "axis": {"labelFont": "Liberation Sans", "titleFont": "Liberation Sans", "labelFontSize": 13, "titleFontSize": 15, "titleFontWeight": "normal",
             "labelColor": "black", "titleColor": "black", "tickColor": "black", "domain": false, "grid": false, "tickSize": -4,
             "labelPadding": 5, "titlePadding": 8}
  }
}
